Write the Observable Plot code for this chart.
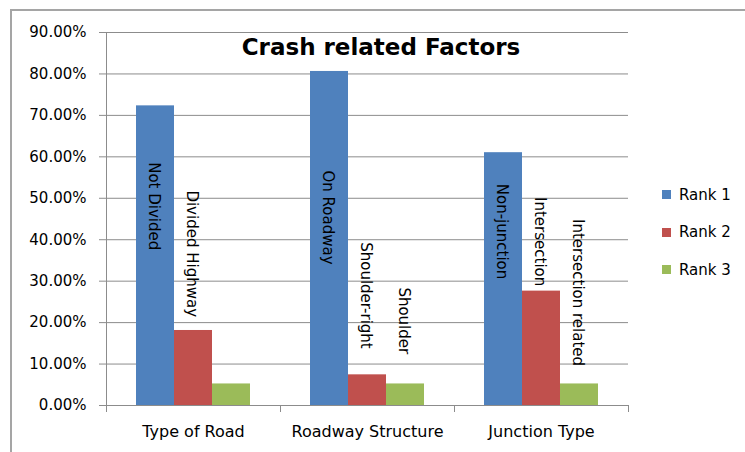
<!DOCTYPE html>
<html><head><meta charset="utf-8">
<script src="https://cdn.jsdelivr.net/npm/d3@7"></script>
<script src="https://cdn.jsdelivr.net/npm/@observablehq/plot@0.6"></script>
<style>
body{margin:0;background:#fff;font-family:"DejaVu Sans",sans-serif;}
#wrap{position:relative;width:745px;height:452px;overflow:hidden}
#border{position:absolute;left:10px;top:9px;width:800px;height:500px;border:2px solid #a5a5a5;box-sizing:border-box;pointer-events:none}
#title{position:absolute;left:0;width:762px;top:36px;line-height:23px;text-align:center;font-weight:bold;font-size:23px;color:#000}
#legend{position:absolute;left:662px;top:176px;font-size:15px;color:#000}
.row{display:flex;align-items:center;height:37.5px}
.sw{width:9px;height:9px;margin-right:8px}
</style></head>
<body><div id="wrap"><div id="border"></div></div>
<script>
const categories = ["Type of Road", "Roadway Structure", "Junction Type"];
const ranks = ["Rank 1", "Rank 2", "Rank 3"];
const rank1 = [0.723, 0.806, 0.610];
const rank2 = [0.181, 0.074, 0.276];
const rank3 = [0.052, 0.052, 0.052];
const labels1 = ["Not Divided", "On Roadway", "Non-junction"];
const labels2 = ["Divided Highway", "Shoulder-right", "Intersection"];
const labels3 = ["", "Shoulder", "Intersection related"];
const labelAt1 = [0.587, 0.567, 0.535];
const labelAt2 = [0.519, 0.394, 0.503];
const labelAt3 = [null, 0.285, 0.450];
const yTicks = [0, 0.1, 0.2, 0.3, 0.4, 0.5, 0.6, 0.7, 0.8, 0.9];
const colors = ["#4F81BD", "#C0504D", "#9BBB59"];
const titleText = "Crash related Factors";

const series = [rank1, rank2, rank3];
const labels = [labels1, labels2, labels3];
const labelAt = [labelAt1, labelAt2, labelAt3];
const rows = [];
categories.forEach((c, i) => series.forEach((s, j) => rows.push({
  category: c, rank: ranks[j], value: s[i], label: labels[j][i], labelAt: labelAt[j][i]
})));

const plot = Plot.plot({
  width: 745, height: 452,
  marginLeft: 105, marginRight: 117, marginTop: 32, marginBottom: 47,
  style: {fontFamily: "DejaVu Sans", fontSize: "15px", color: "#000", background: "transparent"},
  fx: {domain: categories, padding: 0, label: null},
  x: {domain: ranks, paddingInner: 0, paddingOuter: 0.75, axis: null},
  y: {domain: [0, 0.9], label: null},
  color: {domain: ranks, range: colors},
  marks: [
    Plot.gridY(yTicks, {stroke: "#8c8c8c", strokeOpacity: 1}),
    Plot.barY(rows, {fx: "category", x: "rank", y: "value", fill: "rank"}),
    Plot.text(rows.filter(d => d.label), {fx: "category", x: "rank", y: "labelAt", text: "label", rotate: 90, textAnchor: "start", fontSize: 15, fill: "#000", dx: -2}),
    Plot.axisY(yTicks, {tickFormat: d3.format(".2%"), tickSize: 7, tickPadding: 13, stroke: "#8c8c8c", fontSize: 15}),
    Plot.axisFx({anchor: "bottom", tickSize: 0, tickPadding: 20, fontSize: 16})
  ]
});

const wrap = document.getElementById("wrap");
wrap.insertBefore(plot, wrap.firstChild);

// axis line and category boundary ticks via the plot's own scales
const fx = plot.scale("fx"), y = plot.scale("y");
const svg = d3.select(plot);
const x0 = fx.apply(categories[0]);
svg.append("line").attr("x1", x0 + 0.5).attr("x2", x0 + 0.5)
  .attr("y1", y.apply(0)).attr("y2", y.apply(0.9)).attr("stroke", "#8c8c8c");
const edges = categories.map(c => fx.apply(c)).concat([fx.apply(categories[categories.length - 1]) + fx.bandwidth]);
edges.forEach(e => svg.append("line").attr("x1", e + 0.5).attr("x2", e + 0.5)
  .attr("y1", y.apply(0)).attr("y2", y.apply(0) + 7).attr("stroke", "#8c8c8c"));

const t = document.createElement("div");
t.id = "title"; t.textContent = titleText; wrap.appendChild(t);
const lg = document.createElement("div"); lg.id = "legend";
ranks.forEach((r, j) => {
  const row = document.createElement("div"); row.className = "row";
  const sw = document.createElement("span"); sw.className = "sw"; sw.style.background = plot.scale("color").apply(r);
  const tx = document.createElement("span"); tx.textContent = r;
  row.appendChild(sw); row.appendChild(tx); lg.appendChild(row);
});
wrap.appendChild(lg);
</script></body></html>
